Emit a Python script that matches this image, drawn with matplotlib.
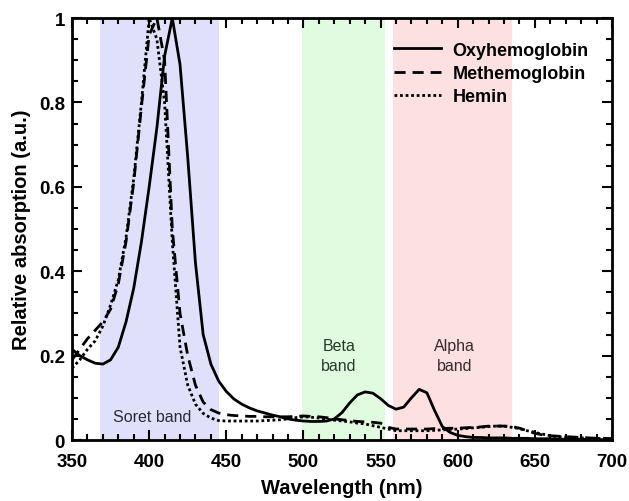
import numpy as np
import matplotlib
matplotlib.use("Agg")
import matplotlib.pyplot as plt

plt.rcParams['font.family'] = ['Liberation Sans', 'DejaVu Sans']

# wavelength grid (nm)
wl = np.arange(350, 705, 5)

# Oxyhemoglobin
oxy = [0.215, 0.200, 0.190, 0.182, 0.180, 0.190, 0.220, 0.280, 0.360, 0.470,
       0.600, 0.740, 0.910, 1.000, 0.890, 0.670, 0.420, 0.250, 0.180, 0.140,
       0.115, 0.097, 0.085, 0.076, 0.069, 0.064, 0.059, 0.055, 0.050, 0.047,
       0.045, 0.044, 0.044, 0.045, 0.050, 0.065, 0.088, 0.107, 0.114, 0.111,
       0.098, 0.082, 0.073, 0.078, 0.100, 0.120, 0.112, 0.070, 0.032, 0.018,
       0.011, 0.008, 0.006, 0.006, 0.005, 0.005, 0.005, 0.004, 0.004, 0.004,
       0.003, 0.003, 0.003, 0.002, 0.002, 0.002, 0.002, 0.001, 0.001, 0.001,
       0.001]

# Methemoglobin
met = [0.190, 0.215, 0.240, 0.260, 0.280, 0.310, 0.370, 0.470, 0.610, 0.790,
       0.960, 1.000, 0.900, 0.500, 0.300, 0.200, 0.130, 0.090, 0.072, 0.064,
       0.060, 0.058, 0.057, 0.056, 0.056, 0.055, 0.055, 0.055, 0.055, 0.056,
       0.057, 0.056, 0.055, 0.053, 0.050, 0.048, 0.046, 0.044, 0.043, 0.042,
       0.040, 0.030, 0.026, 0.026, 0.026, 0.026, 0.026, 0.027, 0.027, 0.028,
       0.028, 0.029, 0.030, 0.031, 0.033, 0.033, 0.033, 0.032, 0.028, 0.022,
       0.016, 0.012, 0.010, 0.009, 0.008, 0.007, 0.006, 0.005, 0.004, 0.004,
       0.003]

# Hemin
hem = [0.170, 0.190, 0.215, 0.235, 0.270, 0.320, 0.380, 0.480, 0.620, 0.800,
       1.000, 0.950, 0.800, 0.470, 0.220, 0.130, 0.085, 0.063, 0.052, 0.046,
       0.045, 0.045, 0.045, 0.045, 0.045, 0.046, 0.047, 0.048, 0.050, 0.053,
       0.055, 0.054, 0.052, 0.049, 0.047, 0.045, 0.043, 0.040, 0.038, 0.034,
       0.030, 0.026, 0.022, 0.022, 0.022, 0.022, 0.022, 0.023, 0.024, 0.025,
       0.026, 0.027, 0.029, 0.030, 0.032, 0.033, 0.033, 0.030, 0.027, 0.022,
       0.018, 0.014, 0.010, 0.008, 0.007, 0.006, 0.005, 0.004, 0.004, 0.003,
       0.003]

# spectral bands (nm)
bands = [(368, 445, '#e0e0fa'), (499, 553, '#e0fbe0'), (558, 635, '#fde0e0')]

fig = plt.figure(figsize=(6.29, 5.02), dpi=100)
ax = fig.add_axes([0.1145, 0.1215, 0.8585, 0.8405])

for lo, hi, c in bands:
    ax.axvspan(lo, hi, color=c, lw=0, zorder=0)

ax.plot(wl, oxy, color='black', lw=2.0, ls='-', label='Oxyhemoglobin')
ax.plot(wl, met, color='black', lw=2.0, ls=(0, (4, 2.5)), label='Methemoglobin')
ax.plot(wl, hem, color='black', lw=2.0, ls=(0, (1, 1)), label='Hemin')

ax.text(402, 0.056, 'Soret band', fontsize=11.5, color='#2a2a3a', ha='center', va='center')
ax.text(523, 0.2, 'Beta\nband', fontsize=11.5, color='#2a3a2a', ha='center', va='center',
        linespacing=1.4)
ax.text(598, 0.2, 'Alpha\nband', fontsize=11.5, color='#3a2a2a', ha='center', va='center',
        linespacing=1.4)

ax.set_xlim(350, 700)
ax.set_ylim(0, 1)
ax.set_xticks(np.arange(350, 701, 50))
ax.set_xticks(np.arange(350, 701, 10), minor=True)
ax.set_yticks([0, 0.2, 0.4, 0.6, 0.8, 1.0])
ax.set_yticklabels(['0', '0.2', '0.4', '0.6', '0.8', '1'])
ax.set_yticks(np.arange(0, 1.001, 0.05), minor=True)
ax.tick_params(which='both', direction='in', top=True, right=True, width=1.5,
               labelsize=13.5)
ax.tick_params(which='major', length=7)
ax.tick_params(which='minor', length=4)
ax.tick_params(axis='x', pad=9)
ax.tick_params(axis='y', pad=5)
for lab in ax.get_xticklabels() + ax.get_yticklabels():
    lab.set_fontweight('bold')
for s in ax.spines.values():
    s.set_linewidth(2)

ax.set_xlabel('Wavelength (nm)', fontsize=14.5, fontweight='bold', labelpad=6)
ax.set_ylabel('Relative absorption (a.u.)', fontsize=14.5, fontweight='bold', labelpad=6)

leg = ax.legend(loc='upper right', frameon=False, handlelength=2.6,
                prop={'weight': 'bold', 'size': 13}, borderaxespad=0.9,
                labelspacing=0.35, handletextpad=0.65)

fig.savefig('out.png', dpi=100)
